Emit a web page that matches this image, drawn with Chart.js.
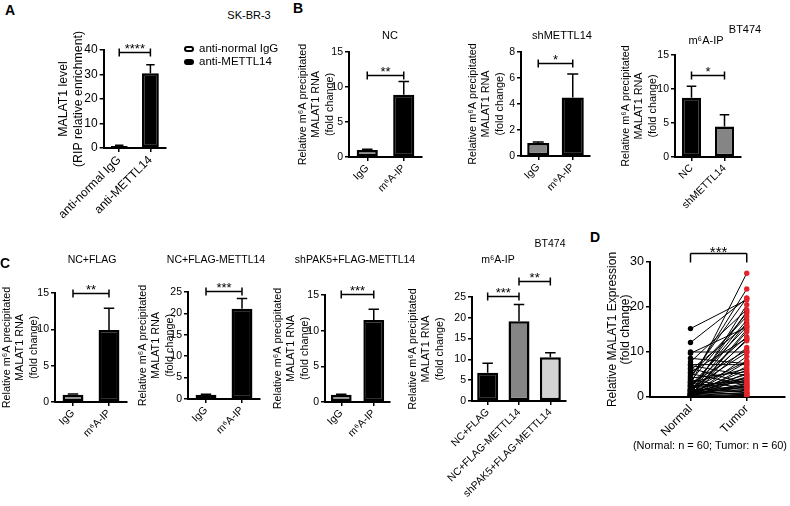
<!DOCTYPE html>
<html>
<head>
<meta charset="utf-8">
<script src="https://cdn.jsdelivr.net/npm/chart.js@4.4.1/dist/chart.umd.min.js"></script>
<style>
  body { margin: 0; background: #fff; }
  #wrap { position: relative; width: 790px; height: 506px; overflow: hidden;
          font-family: "Liberation Sans", Arial, sans-serif; color: #000; }
  canvas { position: absolute; }
  .t { position: absolute; white-space: nowrap; line-height: 1; transform: translate(-50%, -50%); }
  .t.l { transform: translate(0, -50%); }
  .sw { position: absolute; box-sizing: border-box; width: 10px; height: 6px; border-radius: 3px; }
</style>
</head>
<body>
<div id="wrap"></div>
<script>
// ---------- data ----------
const ripLabels = ["anti-normal IgG", "anti-METTL14"];
const ripMean = [0.8, 30.5];
const ripSd = [0.3, 3.5];
const ripSig = [[0, 1, 39.2, "****"]];

const ipLabels = ["IgG", "m⁶A-IP"];
const ncMean = [1.0, 8.9];
const ncSd = [0.1, 1.9];
const ncSig = [[0, 1, 11.7, "**"]];

const shMean = [1.0, 4.5];
const shSd = [0.08, 1.8];
const shSig = [[0, 1, 7.15, "*"]];

const btLabels = ["NC", "shMETTL14"];
const btMean = [8.7, 4.5];
const btSd = [1.7, 1.7];
const btSig = [[0, 1, 12, "*"]];

const flagMean = [1.0, 9.9];
const flagSd = [0.1, 3.0];
const flagSig = [[0, 1, 15.0, "**"]];

const flagM14Mean = [1.0, 21.1];
const flagM14Sd = [0.1, 2.4];
const flagM14Sig = [[0, 1, 25.3, "***"]];

const pak5Mean = [1.0, 11.5];
const pak5Sd = [0.1, 1.5];
const pak5Sig = [[0, 1, 15.2, "***"]];

const rescueLabels = ["NC+FLAG", "NC+FLAG-METTL14", "shPAK5+FLAG-METTL14"];
const rescueMean = [6.8, 19.2, 10.5];
const rescueSd = [2.3, 4.0, 1.1];
const rescueSig = [[0, 1, 25.2, "***"], [1, 2, 28.9, "**"]];

const pairGroups = ["Normal", "Tumor"];
const normalExpr = [
  15.2, 12.1, 10.0, 9.7, 8.6, 7.8, 7.2, 7.0, 6.4, 6.0,
  5.5, 5.2, 4.8, 4.5, 4.2, 4.0, 3.8, 3.5, 3.2, 3.0,
  2.8, 2.6, 2.4, 2.2, 2.0, 1.9, 1.8, 1.7, 1.6, 1.5,
  1.4, 1.3, 1.2, 1.1, 1.0, 0.9, 0.8, 0.8, 0.7, 0.7,
  0.6, 0.6, 0.5, 0.5, 0.4, 0.4, 0.3, 0.3, 0.3, 0.2,
  0.2, 0.2, 0.1, 0.1, 0.1, 1.0, 2.5, 3.3, 0.5, 1.5
];
const tumorExpr = [
  21.6, 21.9, 10.0, 15.5, 7.4, 19.4, 7.2, 4.8, 3.0, 16.0,
  13.0, 2.6, 17.9, 22.0, 5.6, 24.0, 1.9, 18.6, 6.3, 10.4,
  27.5, 15.6, 13.4, 4.1, 3.4, 17.1, 9.9, 1.1, 8.0, 2.0,
  0.4, 5.0, 12.5, 19.0, 3.8, 0.8, 16.5, 6.0, 4.5, 2.3,
  1.5, 11.0, 20.5, 0.3, 7.8, 3.1, 14.5, 5.3, 1.0, 9.0,
  2.8, 0.6, 15.0, 4.3, 6.8, 1.7, 3.6, 0.9, 12.8, 2.4
];
const pairSig = [[0, 1, 32, "***"]];

const m6aTitle = ["Relative m⁶A precipitated", "MALAT1 RNA", "(fold change)"];

// ---------- setup ----------
Chart.defaults.font.family = '"Liberation Sans", Arial, sans-serif';
Chart.defaults.font.size = 10.5;
Chart.defaults.color = "#000";

const wrap = document.getElementById("wrap");

function makeCanvas(l, t, w, h) {
  const c = document.createElement("canvas");
  c.width = w; c.height = h;
  c.style.left = l + "px"; c.style.top = t + "px";
  c.style.width = w + "px"; c.style.height = h + "px";
  wrap.appendChild(c);
  return c;
}

// error bars (upper only) + significance brackets
const sigPlugin = {
  id: "sigMarks",
  afterDatasetsDraw(chart, args, o) {
    const { ctx } = chart;
    const x = chart.scales.x, y = chart.scales.y;
    ctx.save();
    ctx.strokeStyle = "#000";
    ctx.fillStyle = "#000";
    ctx.lineWidth = 1.5;
    if (o.sd) {
      const meta = chart.getDatasetMeta(0);
      const vals = chart.data.datasets[0].data;
      o.sd.forEach((s, i) => {
        const bar = meta.data[i];
        const yb = y.getPixelForValue(vals[i]);
        const yt = y.getPixelForValue(vals[i] + s);
        const cw = bar.width * 0.5;
        ctx.beginPath();
        ctx.moveTo(bar.x, yb); ctx.lineTo(bar.x, yt);
        ctx.moveTo(bar.x - cw / 2, yt); ctx.lineTo(bar.x + cw / 2, yt);
        ctx.stroke();
      });
    }
    (o.sig || []).forEach(([a, b, lvl, txt]) => {
      const xa = x.getPixelForValue(a), xb = x.getPixelForValue(b);
      const yy = Math.round(y.getPixelForValue(lvl)) + 0.5;
      ctx.beginPath();
      ctx.moveTo(xa, yy); ctx.lineTo(xb, yy);
      if (o.down) {
        ctx.moveTo(xa, yy); ctx.lineTo(xa, yy + 9);
        ctx.moveTo(xb, yy); ctx.lineTo(xb, yy + 9);
      } else {
        ctx.moveTo(xa, yy - 4); ctx.lineTo(xa, yy + 4);
        ctx.moveTo(xb, yy - 4); ctx.lineTo(xb, yy + 4);
      }
      ctx.stroke();
      ctx.font = (o.starSize || 13) + 'px "Liberation Sans", Arial, sans-serif';
      ctx.textAlign = "center";
      ctx.textBaseline = "alphabetic";
      ctx.fillText(txt, (xa + xb) / 2, yy + (o.starDy || 0));
    });
    ctx.restore();
  }
};

function axisCommon() {
  return {
    grid: { drawOnChartArea: false, color: "#000", lineWidth: 1.5, tickLength: 4 },
    border: { color: "#000", width: 2 }
  };
}

function barPanel(g, labels, mean, sd, fills, ymax, step, sig, yTitle, pct, f) {
  f = Object.assign({ tick: 10.5, xtick: 10.5, title: 10.8, lh: 1.25 }, f || {});
  const padTop = 34, padR = 6;
  const w = g.x1 - g.cx + padR;
  const h = g.y0 - g.top + padTop + g.H;
  const c = makeCanvas(g.cx, g.top - padTop, w, h);
  const xs = axisCommon(), ys = axisCommon();
  xs.grid.offset = false;
  new Chart(c, {
    type: "bar",
    data: {
      labels: labels,
      datasets: [{
        data: mean,
        backgroundColor: fills,
        borderColor: "#000",
        borderWidth: 2.5,
        borderSkipped: false,
        categoryPercentage: 1,
        barPercentage: pct
      }]
    },
    options: {
      responsive: false,
      animation: false,
      devicePixelRatio: 1,
      layout: { padding: { top: padTop, right: padR, left: 0, bottom: 0 } },
      plugins: {
        legend: { display: false },
        tooltip: { enabled: false },
        sigMarks: { sd: sd, sig: sig }
      },
      scales: {
        x: Object.assign(xs, {
          ticks: { minRotation: 45, maxRotation: 45, autoSkip: false, padding: 1, font: { size: f.xtick } },
          afterFit: s => { s.height = g.H; }
        }),
        y: Object.assign(ys, {
          min: 0, max: ymax,
          ticks: { stepSize: step, padding: 2, font: { size: f.tick } },
          title: { display: true, text: yTitle, padding: 0, font: { size: f.title, lineHeight: f.lh } },
          afterFit: s => { s.width = g.x0 - g.cx; }
        })
      }
    },
    plugins: [sigPlugin]
  });
}

// ---------- panels ----------
const GRAY = "#858585", LIGHT = "#d2d2d2", BLACK = "#000";

barPanel({ cx: 48, x0: 95, x1: 166, top: 50, y0: 148, H: 90 },
  ripLabels, ripMean, ripSd, ["#fff", BLACK], 40, 10, ripSig,
  ["MALAT1 level", "(RIP relative enrichment)"], 0.54,
  { tick: 12, xtick: 12, title: 12.3, lh: 1.18 });

barPanel({ cx: 296, x0: 349, x1: 422, top: 52, y0: 157, H: 50 },
  ipLabels, ncMean, ncSd, [GRAY, BLACK], 15, 5, ncSig, m6aTitle, 0.58);

barPanel({ cx: 466, x0: 521, x1: 590, top: 52, y0: 156, H: 50 },
  ipLabels, shMean, shSd, [GRAY, BLACK], 8, 2, shSig, m6aTitle, 0.64);

barPanel({ cx: 619, x0: 675, x1: 741, top: 55, y0: 157, H: 60 },
  btLabels, btMean, btSd, [BLACK, GRAY], 15, 5, btSig, m6aTitle, 0.58);

barPanel({ cx: 0, x0: 55, x1: 127, top: 293, y0: 402, H: 45 },
  ipLabels, flagMean, flagSd, [GRAY, BLACK], 15, 5, flagSig, m6aTitle, 0.58);

barPanel({ cx: 136, x0: 188, x1: 260, top: 292, y0: 399, H: 45 },
  ipLabels, flagM14Mean, flagM14Sd, [GRAY, BLACK], 25, 5, flagM14Sig, m6aTitle, 0.58);

barPanel({ cx: 271, x0: 325, x1: 390, top: 295, y0: 402, H: 45 },
  ipLabels, pak5Mean, pak5Sd, [GRAY, BLACK], 15, 5, pak5Sig, m6aTitle, 0.64);

barPanel({ cx: 406, x0: 472, x1: 566, top: 297, y0: 401, H: 105 },
  rescueLabels, rescueMean, rescueSd, [BLACK, GRAY, LIGHT], 25, 5, rescueSig, m6aTitle, 0.67);

// paired normal/tumor plot
(function () {
  const g = { cx: 606, x0: 650, x1: 787, top: 262, y0: 397, H: 45 };
  const padTop = 30, padR = 2;
  const c = makeCanvas(g.cx, g.top - padTop, g.x1 - g.cx + padR, g.y0 - g.top + padTop + g.H);
  const xs = axisCommon(), ys = axisCommon();
  const sets = normalExpr.map((n, i) => ({
    data: [{ x: 0, y: n }, { x: 1, y: tumorExpr[i] }],
    borderColor: "#000",
    borderWidth: 1,
    pointRadius: 2.7,
    pointBorderWidth: 0,
    pointBackgroundColor: ["#000", "#e3242b"]
  }));
  new Chart(c, {
    type: "line",
    data: { datasets: sets },
    options: {
      responsive: false,
      animation: false,
      devicePixelRatio: 1,
      layout: { padding: { top: padTop, right: padR, left: 0, bottom: 0 } },
      plugins: {
        legend: { display: false },
        tooltip: { enabled: false },
        sigMarks: { sig: pairSig, down: true, starSize: 15, starDy: 3 }
      },
      scales: {
        x: Object.assign(xs, {
          type: "linear", min: -0.72, max: 1.68,
          afterBuildTicks: s => { s.ticks = [{ value: 0 }, { value: 1 }]; },
          ticks: { minRotation: 45, maxRotation: 45, padding: 1, font: { size: 12 },
                   callback: v => pairGroups[v] || "" },
          afterFit: s => { s.height = g.H; }
        }),
        y: Object.assign(ys, {
          min: 0, max: 30,
          ticks: { stepSize: 10, padding: 2, font: { size: 12.5 } },
          title: { display: true, text: ["Relative MALAT1 Expression", "(fold change)"], padding: 0,
                   font: { size: 12, lineHeight: 1.1 } },
          afterFit: s => { s.width = g.x0 - g.cx; }
        })
      }
    },
    plugins: [sigPlugin]
  });
})();

// ---------- text overlays ----------
const notes = [
  ["A", 10, 10, 14, "bold"],
  ["B", 298, 8, 14, "bold"],
  ["C", 5, 263, 14, "bold"],
  ["D", 595, 237, 14, "bold"],
  ["SK-BR-3", 249, 15, 11],
  ["NC", 390, 35, 11],
  ["shMETTL14", 562, 35, 11],
  ["m⁶A-IP", 706, 40, 11],
  ["BT474", 745, 29, 11],
  ["NC+FLAG", 92, 259, 10.5],
  ["NC+FLAG-METTL14", 216, 259, 10.5],
  ["shPAK5+FLAG-METTL14", 355, 259, 10.5],
  ["m⁶A-IP", 498, 259, 10.5],
  ["BT474", 550, 243, 10.5],
  ["(Normal: n = 60; Tumor: n = 60)", 710, 445, 11]
];
notes.forEach(([txt, x, y, size, weight]) => {
  const d = document.createElement("div");
  d.className = "t";
  d.textContent = txt;
  d.style.left = x + "px";
  d.style.top = y + "px";
  d.style.fontSize = size + "px";
  if (weight) d.style.fontWeight = weight;
  wrap.appendChild(d);
});

// legend for panel A
[["anti-normal IgG", "#fff", 49], ["anti-METTL14", "#000", 62]].forEach(([txt, fill, y]) => {
  const s = document.createElement("div");
  s.className = "sw";
  s.style.left = "184px";
  s.style.top = (y - 3) + "px";
  s.style.background = fill;
  s.style.border = "2px solid #000";
  wrap.appendChild(s);
  const d = document.createElement("div");
  d.className = "t l";
  d.textContent = txt;
  d.style.left = "199px";
  d.style.top = y + "px";
  d.style.fontSize = "11.5px";
  wrap.appendChild(d);
});
</script>
</body>
</html>
